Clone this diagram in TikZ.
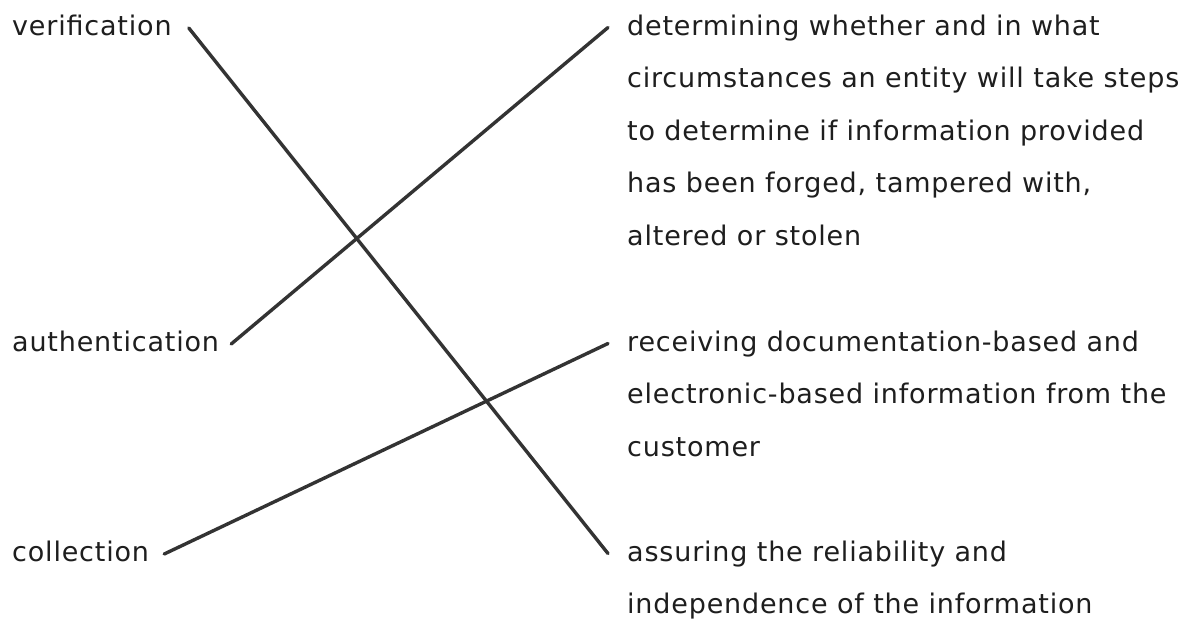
\documentclass[tikz,border=0pt]{standalone}
\usepackage{fontspec}
\setmainfont{DejaVu Sans}[LetterSpace=3.0]
\usetikzlibrary{calc}
\definecolor{ink}{HTML}{1E1E1E}
\definecolor{wirec}{HTML}{333333}
\begin{document}
\begin{tikzpicture}[x=1pt,y=-1pt,
  term/.style={anchor=base west,inner sep=0pt,text=ink,
    font=\fontsize{27}{52.5}\selectfont,text height=20pt,text depth=6pt},
  defn/.style={anchor=north west,inner sep=0pt,align=left,text=ink,
    font=\fontsize{27}{52.5}\selectfont},
  wire/.style={draw=wirec,line width=3.4pt,line cap=round}]
\useasboundingbox[fill=white] (0,0) rectangle (1197,622);

% terms on the left
\node[term] (ver) at (12,35) {verification};
\node[term] (aut) at (12,351) {authentication};
\node[term] (col) at (12,561) {collection};

% definitions on the right
\node[defn] (d1) at (627,14.5) {determining whether and in what\\
  circumstances an entity will take steps\\
  to determine if information provided\\
  has been forged, tampered with,\\
  altered or stolen};
\node[defn] (d2) at (627,330.5) {receiving documentation-based and\\
  electronic-based information from the\\
  customer};
\node[defn] (d3) at (627,540.5) {assuring the reliability and\\
  independence of the information};

% matching lines
\draw[wire] ($(ver.east)+(17,0)$) -- ($(d3.north west)+(-19,13)$);
\draw[wire] ($(aut.east)+(12,0)$) -- ($(d1.north west)+(-19,13)$);
\draw[wire] ($(col.east)+(15,0)$) -- ($(d2.north west)+(-19,13)$);
\end{tikzpicture}
\end{document}
